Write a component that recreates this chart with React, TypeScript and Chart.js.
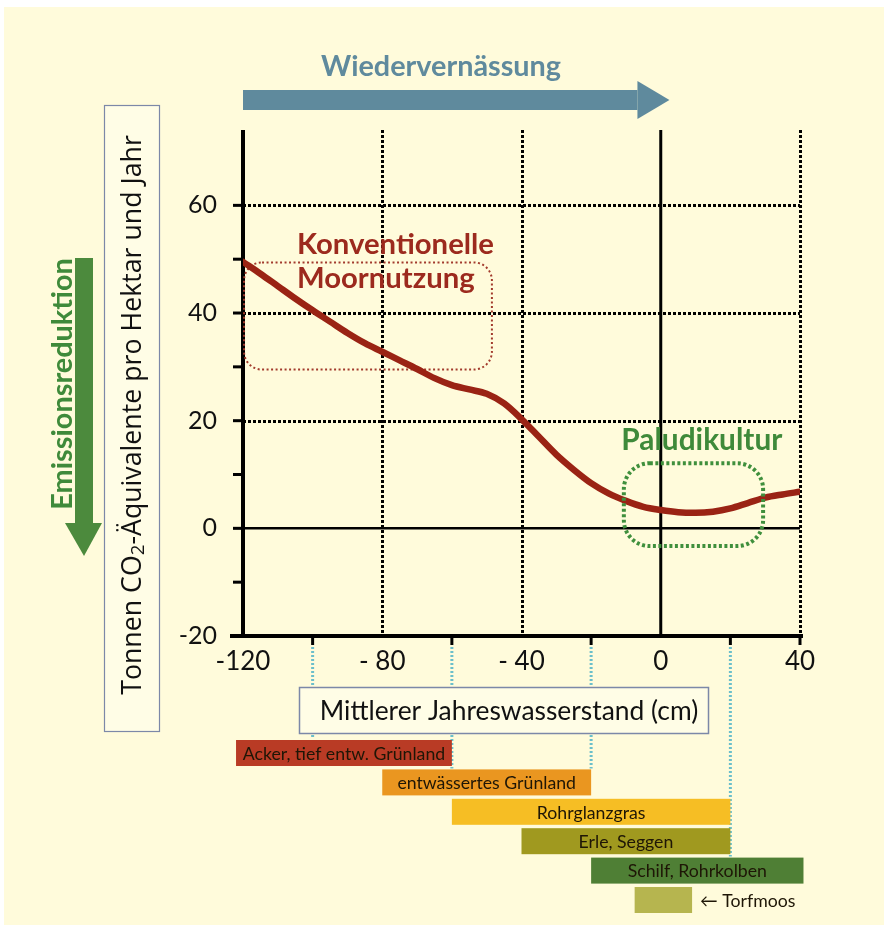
import React, { useEffect, useRef } from "react";
import { Chart, registerables } from "chart.js";

Chart.register(...registerables);

// ---------- data ----------
const waterLevel = [
  -120, -115, -110, -105, -100, -95, -90, -85, -80, -75, -70, -65, -60, -55, -50, -45, -40,
  -35, -30, -25, -20, -15, -10, -5, 0, 5, 10, 15, 20, 25, 30, 35, 40,
];
const emissions = [
  49.5, 47.3, 45.0, 42.7, 40.5, 38.4, 36.3, 34.4, 32.8, 31.2, 29.6, 27.9, 26.6, 25.8, 25.0,
  23.2, 20.3, 17.0, 13.7, 10.9, 8.4, 6.5, 5.1, 4.0, 3.4, 3.0, 2.9, 3.1, 3.7, 4.7, 5.7, 6.3, 6.8,
];

const xTickValues = [-120, -80, -40, 0, 40];
const xTickTexts = ["-120", "- 80", "- 40", "0", "40"];
const xMinorTicks = [-100, -60, -20, 20, 40];
const yTickValues = [-20, 0, 20, 40, 60];
const yTickTexts = ["-20", "0", "20", "40", "60"];
const yMinorTicks = [-10, 0, 10, 20, 30, 40, 50, 60];

const landUseLabels = [
  "Acker, tief entw. Grünland",
  "entwässertes Grünland",
  "Rohrglanzgras",
  "Erle, Seggen",
  "Schilf, Rohrkolben",
  "",
];
const landUseFrom = [-122, -80, -60, -40, -20, -7.5];
const landUseTo = [-60, -20, 20, 20, 41, 9];
const landUseColors = ["#B93B25", "#EA9620", "#F6BE24", "#A0991F", "#4F7F35", "#B6B54F"];

const guideValues = [-100, -60, -20, 20];
const guideEndRows = [0, 1, 1, 4];

// annotation anchors (data units)
const konvBox = { x0: -119.7, x1: -48.5, y0: 29.5, y1: 49.4 };
const paluBox = { x0: -10.6, x1: 29.4, y0: -3.3, y1: 12.1 };

const CREAM = "#FFFBDB";
const FONT = "Lato, 'Open Sans', sans-serif";

function roundRect(ctx: CanvasRenderingContext2D, x: number, y: number, w: number, h: number, r: number) {
  ctx.beginPath();
  ctx.moveTo(x + r, y);
  ctx.lineTo(x + w - r, y);
  ctx.arcTo(x + w, y, x + w, y + r, r);
  ctx.lineTo(x + w, y + h - r);
  ctx.arcTo(x + w, y + h, x + w - r, y + h, r);
  ctx.lineTo(x + r, y + h);
  ctx.arcTo(x, y + h, x, y + h - r, r);
  ctx.lineTo(x, y + r);
  ctx.arcTo(x, y, x + r, y, r);
  ctx.closePath();
}

function fitSize(ctx: CanvasRenderingContext2D, text: string, weight: string, target: number) {
  ctx.font = `${weight} 20px ${FONT}`;
  const w = ctx.measureText(text).width;
  return (20 * target) / w;
}

const decor = {
  id: "decor",
  beforeDraw(chart: any) {
    const { ctx, width, height } = chart;
    ctx.save();
    ctx.fillStyle = "#ffffff";
    ctx.fillRect(0, 0, width, height);
    ctx.fillStyle = CREAM;
    ctx.fillRect(4, 7, width - 4, height - 7);
    ctx.restore();
  },
  beforeDatasetsDraw(chart: any) {
    const { ctx, chartArea: a } = chart;
    const xs = chart.scales.x;
    const ys = chart.scales.y;
    ctx.save();

    // dotted horizontal grid
    ctx.strokeStyle = "#000";
    ctx.lineWidth = 3;
    ctx.setLineDash([3, 2]);
    for (const v of [20, 40, 60]) {
      const py = Math.round(ys.getPixelForValue(v)) + 0.5;
      ctx.beginPath();
      ctx.moveTo(a.left, py);
      ctx.lineTo(a.right, py);
      ctx.stroke();
    }
    // dotted vertical grid
    for (const v of [-80, -40, 40]) {
      const px = Math.round(xs.getPixelForValue(v)) + 0.5;
      ctx.beginPath();
      ctx.moveTo(px, a.top);
      ctx.lineTo(px, a.bottom);
      ctx.stroke();
    }
    ctx.setLineDash([]);
    // zero lines
    ctx.lineWidth = 2.5;
    const y0 = ys.getPixelForValue(0);
    ctx.beginPath();
    ctx.moveTo(a.left, y0);
    ctx.lineTo(a.right, y0);
    ctx.stroke();
    ctx.lineWidth = 3;
    const x0 = xs.getPixelForValue(0);
    ctx.beginPath();
    ctx.moveTo(x0, a.top);
    ctx.lineTo(x0, a.bottom);
    ctx.stroke();

    // y ticks
    ctx.lineWidth = 3;
    for (const v of yMinorTicks) {
      const py = ys.getPixelForValue(v);
      ctx.beginPath();
      ctx.moveTo(a.left - 10, py);
      ctx.lineTo(a.left, py);
      ctx.stroke();
    }
    // x ticks below axis
    for (const v of xMinorTicks) {
      const px = xs.getPixelForValue(v);
      ctx.beginPath();
      ctx.moveTo(px, a.bottom);
      ctx.lineTo(px, a.bottom + 9);
      ctx.stroke();
    }
    // axes
    ctx.lineWidth = 4;
    ctx.beginPath();
    ctx.moveTo(a.left, a.top);
    ctx.lineTo(a.left, a.bottom);
    ctx.stroke();
    ctx.beginPath();
    ctx.moveTo(a.left - 13, a.bottom);
    ctx.lineTo(a.right + 3, a.bottom);
    ctx.stroke();

    // red dotted box (behind the curve)
    const rx0 = xs.getPixelForValue(konvBox.x0);
    const rx1 = xs.getPixelForValue(konvBox.x1);
    const ry0 = ys.getPixelForValue(konvBox.y1);
    const ry1 = ys.getPixelForValue(konvBox.y0);
    ctx.strokeStyle = "#A23A2C";
    ctx.lineWidth = 2;
    ctx.setLineDash([2, 2.5]);
    roundRect(ctx, rx0, ry0, rx1 - rx0, ry1 - ry0, 18);
    ctx.stroke();
    ctx.setLineDash([]);

    // Konventionelle Moornutzung
    const ks = fitSize(ctx, "Konventionelle", "bold", 197);
    ctx.fillStyle = "#9C2A1E";
    ctx.font = `bold ${ks.toFixed(1)}px ${FONT}`;
    ctx.textAlign = "left";
    ctx.textBaseline = "alphabetic";
    const tx = xs.getPixelForValue(-104.5);
    ctx.fillText("Konventionelle", tx, ys.getPixelForValue(50.9));
    ctx.fillText("Moornutzung", tx, ys.getPixelForValue(44.7));
    ctx.restore();
  },
  afterDatasetsDraw(chart: any) {
    const { ctx, chartArea: a } = chart;
    const xs = chart.scales.x;
    const ys = chart.scales.y;
    ctx.save();

    // green dotted box
    const gx0 = xs.getPixelForValue(paluBox.x0);
    const gx1 = xs.getPixelForValue(paluBox.x1);
    const gy0 = ys.getPixelForValue(paluBox.y1);
    const gy1 = ys.getPixelForValue(paluBox.y0);
    ctx.strokeStyle = "#3F8F3C";
    ctx.lineWidth = 4;
    ctx.setLineDash([3, 2.5]);
    roundRect(ctx, gx0, gy0, gx1 - gx0, gy1 - gy0, 26);
    ctx.stroke();
    ctx.setLineDash([]);

    const ps = fitSize(ctx, "Paludikultur", "bold", 161);
    ctx.fillStyle = "#3F8A3A";
    ctx.font = `bold ${ps.toFixed(1)}px ${FONT}`;
    ctx.textAlign = "center";
    ctx.textBaseline = "alphabetic";
    ctx.fillText("Paludikultur", xs.getPixelForValue(11.8), ys.getPixelForValue(14.5));

    // Wiedervernässung arrow
    const blue = "#5F8A9D";
    const ax0 = xs.getPixelForValue(-120);
    const axTip = xs.getPixelForValue(2.5);
    ctx.fillStyle = blue;
    ctx.fillRect(ax0, 90, axTip - 32 - ax0, 20);
    ctx.beginPath();
    ctx.moveTo(axTip - 32, 81);
    ctx.lineTo(axTip, 100);
    ctx.lineTo(axTip - 32, 119);
    ctx.closePath();
    ctx.fill();
    const ws0 = fitSize(ctx, "Wiedervernässung", "bold", 240);
    ctx.font = `bold ${ws0.toFixed(1)}px ${FONT}`;
    ctx.textAlign = "center";
    ctx.fillText("Wiedervernässung", 441, 76);

    // Emissionsreduktion arrow
    const green = "#4C8A3D";
    ctx.fillStyle = green;
    ctx.fillRect(75, 258, 18, 266);
    ctx.beginPath();
    ctx.moveTo(65, 523);
    ctx.lineTo(102, 523);
    ctx.lineTo(84, 556);
    ctx.closePath();
    ctx.fill();
    ctx.save();
    ctx.translate(63, 384);
    ctx.rotate(-Math.PI / 2);
    const es = fitSize(ctx, "Emissionsreduktion", "bold", 252);
    ctx.font = `bold ${es.toFixed(1)}px ${FONT}`;
    ctx.fillStyle = "#3F8A3A";
    ctx.textAlign = "center";
    ctx.textBaseline = "middle";
    ctx.fillText("Emissionsreduktion", 0, 0);
    ctx.restore();

    // y title box
    ctx.fillStyle = "#FFFDE6";
    ctx.fillRect(104, 105, 55, 626);
    ctx.strokeStyle = "#7C88A8";
    ctx.lineWidth = 1.2;
    ctx.strokeRect(104.5, 105.5, 55, 626);
    ctx.save();
    ctx.translate(133, 415);
    ctx.rotate(-Math.PI / 2);
    const p1 = "Tonnen CO";
    const p2 = "-Äquivalente pro Hektar und Jahr";
    const yFont = "'Open Sans', 'DejaVu Sans', sans-serif";
    let fs = 22;
    ctx.font = `${fs}px ${yFont}`;
    let w1 = ctx.measureText(p1).width;
    let w2 = ctx.measureText(p2).width;
    ctx.font = `${fs * 0.7}px ${yFont}`;
    let ws = ctx.measureText("2").width;
    fs = (fs * 560) / (w1 + w2 + ws);
    ctx.font = `${fs}px ${yFont}`;
    w1 = ctx.measureText(p1).width;
    w2 = ctx.measureText(p2).width;
    ctx.font = `${fs * 0.7}px ${yFont}`;
    ws = ctx.measureText("2").width;
    const start = -(w1 + w2 + ws) / 2;
    ctx.fillStyle = "#111";
    ctx.textAlign = "left";
    ctx.textBaseline = "middle";
    ctx.font = `${fs}px ${yFont}`;
    ctx.fillText(p1, start, 0);
    ctx.font = `${fs * 0.7}px ${yFont}`;
    ctx.fillText("2", start + w1, 6);
    ctx.font = `${fs}px ${yFont}`;
    ctx.fillText(p2, start + w1 + ws, 0);
    ctx.restore();

    // land use bars
    const rowTop = (i: number) => 740 + i * 29.4;
    const rowH = 26;
    // guides (cyan dotted)
    ctx.strokeStyle = "#6BBFCB";
    ctx.lineWidth = 3;
    ctx.setLineDash([2, 2]);
    guideValues.forEach((v, i) => {
      const px = xs.getPixelForValue(v);
      ctx.beginPath();
      ctx.moveTo(px, a.bottom + 11);
      ctx.lineTo(px, rowTop(guideEndRows[i]) - 1);
      ctx.stroke();
    });
    ctx.setLineDash([]);

    // x title box
    ctx.fillStyle = "#FFFDE6";
    ctx.fillRect(299, 687, 409, 46);
    ctx.strokeStyle = "#7C88A8";
    ctx.lineWidth = 1.5;
    ctx.strokeRect(299.5, 687.5, 409, 46);
    const xts = fitSize(ctx, "Mittlerer Jahreswasserstand (cm)", "normal", 378);
    ctx.fillStyle = "#111";
    ctx.font = `${xts.toFixed(1)}px ${FONT}`;
    ctx.textAlign = "center";
    ctx.textBaseline = "middle";
    ctx.fillText("Mittlerer Jahreswasserstand (cm)", 509, 711);

    const bs = fitSize(ctx, "Acker, tief entw. Grünland", "normal", 203);
    landUseLabels.forEach((lab, i) => {
      const l = xs.getPixelForValue(landUseFrom[i]);
      const r = xs.getPixelForValue(landUseTo[i]);
      const t = rowTop(i);
      ctx.fillStyle = landUseColors[i];
      ctx.fillRect(l, t, r - l, rowH);
      if (lab) {
        ctx.fillStyle = "#1e1606";
        ctx.font = `${bs.toFixed(1)}px ${FONT}`;
        ctx.textAlign = "center";
        ctx.textBaseline = "middle";
        ctx.fillText(lab, (l + r) / 2, t + rowH / 2 + 1);
      }
    });
    const lastR = xs.getPixelForValue(landUseTo[5]);
    ctx.fillStyle = "#1e1606";
    ctx.font = `${bs.toFixed(1)}px ${FONT}`;
    ctx.textAlign = "left";
    ctx.textBaseline = "middle";
    ctx.fillText("← Torfmoos", lastR + 8, rowTop(5) + rowH / 2 + 1);

    ctx.restore();
  },
};

export default function App() {
  const ref = useRef<HTMLCanvasElement | null>(null);
  useEffect(() => {
    document.body.style.margin = "0";
    const canvas = ref.current;
    if (!canvas) return;
    const chart = new Chart(canvas, {
      type: "line",
      data: {
        datasets: [
          {
            data: waterLevel.map((x, i) => ({ x, y: emissions[i] })),
            borderColor: "#9A2314",
            borderWidth: 6.5,
            pointRadius: 0,
            cubicInterpolationMode: "monotone",
            borderCapStyle: "round",
            fill: false,
          },
        ],
      },
      options: {
        animation: false,
        responsive: false,
        devicePixelRatio: 1,
        layout: { padding: { top: 130, right: 84, left: 0, bottom: 0 } },
        plugins: { legend: { display: false }, tooltip: { enabled: false } },
        scales: {
          x: {
            type: "linear",
            min: -120,
            max: 40,
            grid: { display: false, drawTicks: false },
            border: { display: false },
            afterFit: (s: any) => {
              s.height = 289;
            },
            afterBuildTicks: (s: any) => {
              s.ticks = xTickValues.map((v) => ({ value: v }));
            },
            ticks: {
              autoSkip: false,
              maxRotation: 0,
              padding: 10,
              color: "#111",
              font: { family: FONT, size: 26 },
              callback: (v: any) => {
                const i = xTickValues.indexOf(Number(v));
                return i >= 0 ? xTickTexts[i] : "";
              },
            },
          },
          y: {
            type: "linear",
            min: -20,
            max: 74,
            grid: { display: false, drawTicks: false },
            border: { display: false },
            afterFit: (s: any) => {
              s.width = 243;
            },
            afterBuildTicks: (s: any) => {
              s.ticks = yTickValues.map((v) => ({ value: v }));
            },
            ticks: {
              autoSkip: false,
              padding: 26,
              color: "#111",
              font: { family: FONT, size: 25 },
              callback: (v: any) => {
                const i = yTickValues.indexOf(Number(v));
                return i >= 0 ? yTickTexts[i] : "";
              },
            },
          },
        },
      },
      plugins: [decor],
    } as any);
    return () => chart.destroy();
  }, []);
  return (
    <div style={{ width: 884, height: 925 }}>
      <canvas ref={ref} width={884} height={925} style={{ display: "block", width: 884, height: 925 }} />
    </div>
  );
}
